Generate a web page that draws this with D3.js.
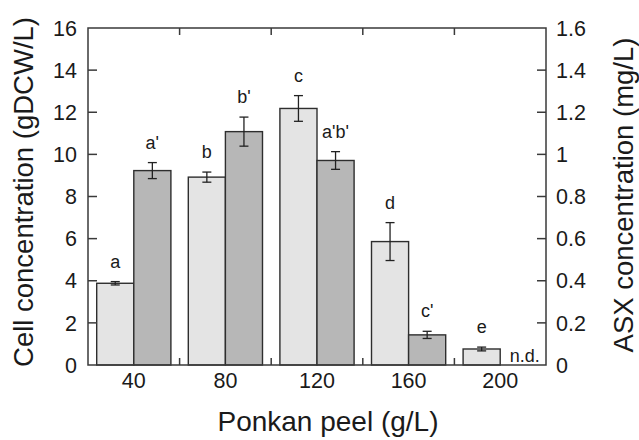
<!DOCTYPE html>
<html><head><meta charset="utf-8">
<script src="https://cdn.jsdelivr.net/npm/d3@7"></script>
<style>
body{margin:0;background:#fff;}
text{font-family:"Liberation Sans",Arial,Helvetica,sans-serif;fill:#1a1a1a;}
</style></head>
<body><svg id="chart" width="639" height="440"></svg>
<script>
const categories = ["40","80","120","160","200"];
const cellValues = [3.88, 8.92, 12.18, 5.86, 0.76];
const cellErrors = [0.08, 0.24, 0.61, 0.90, 0.09];
const asxValues = [0.923, 1.108, 0.971, 0.143, 0];
const asxErrors = [0.038, 0.069, 0.042, 0.017, 0];
const cellLabels = ["a","b","c","d","e"];
const asxLabels = ["a'","b'","a'b'","c'","n.d."];
const leftTicks = [0,2,4,6,8,10,12,14,16];
const rightTicks = [0,0.2,0.4,0.6,0.8,1,1.2,1.4,1.6];

const svg = d3.select("#chart");
const M = {l:88, r:546, t:28, b:365};
const x = d3.scaleBand().domain(categories).range([M.l, M.r]).paddingInner(0.19).paddingOuter(0.095);
const xs = d3.scaleBand().domain(["cell","asx"]).range([0, x.bandwidth()]);
const yL = d3.scaleLinear().domain([0,16]).range([M.b, M.t]);
const yR = d3.scaleLinear().domain([0,1.6]).range([M.b, M.t]);

const barStroke = "#2e2e2e", axisColor = "#3a3a3a";

const rows = categories.map((c,i)=>({c, cell:cellValues[i], cellE:cellErrors[i], asx:asxValues[i], asxE:asxErrors[i], cl:cellLabels[i], al:asxLabels[i]}));

// bars
const g = svg.append("g");
rows.forEach(r=>{
  const xc = x(r.c) + xs("cell"), xa = x(r.c) + xs("asx"), w = xs.bandwidth();
  g.append("rect").attr("x", xc).attr("y", yL(r.cell)).attr("width", w).attr("height", yL(0)-yL(r.cell))
    .attr("fill","#e4e4e4").attr("stroke",barStroke).attr("stroke-width",1.4);
  if (r.asx > 0) {
    g.append("rect").attr("x", xa).attr("y", yR(r.asx)).attr("width", w).attr("height", yR(0)-yR(r.asx))
      .attr("fill","#b7b7b7").attr("stroke",barStroke).attr("stroke-width",1.4);
  }
});

// error bars + labels
function errBar(cx, yTop, yBot){
  const cap = 4.5;
  g.append("line").attr("x1",cx).attr("x2",cx).attr("y1",yTop).attr("y2",yBot).attr("stroke","#222").attr("stroke-width",1.3);
  g.append("line").attr("x1",cx-cap).attr("x2",cx+cap).attr("y1",yTop).attr("y2",yTop).attr("stroke","#222").attr("stroke-width",1.3);
  g.append("line").attr("x1",cx-cap).attr("x2",cx+cap).attr("y1",yBot).attr("y2",yBot).attr("stroke","#222").attr("stroke-width",1.3);
}
rows.forEach(r=>{
  const w = xs.bandwidth();
  const cxc = x(r.c) + xs("cell") + w/2, cxa = x(r.c) + xs("asx") + w/2;
  errBar(cxc, yL(r.cell + r.cellE), yL(r.cell - r.cellE));
  g.append("text").attr("x", cxc).attr("y", yL(r.cell + r.cellE) - 14).attr("text-anchor","middle")
    .attr("font-size",18).text(r.cl);
  if (r.asx > 0) {
    errBar(cxa, yR(r.asx + r.asxE), yR(r.asx - r.asxE));
    g.append("text").attr("x", cxa).attr("y", yR(r.asx + r.asxE) - 14).attr("text-anchor","middle")
      .attr("font-size",18).text(r.al);
  } else {
    g.append("text").attr("x", cxa + 6).attr("y", yR(0) - 3).attr("text-anchor","middle")
      .attr("font-size",18).text(r.al);
  }
});

// frame
const ax = svg.append("g").attr("stroke",axisColor).attr("stroke-width",1.5).attr("fill","none");
ax.append("rect").attr("x",M.l).attr("y",M.t).attr("width",M.r-M.l).attr("height",M.b-M.t);

// left axis ticks (inward)
leftTicks.forEach(v=>{
  if (v>0 && v<16) ax.append("line").attr("x1",M.l).attr("x2",M.l+9).attr("y1",yL(v)).attr("y2",yL(v));
  svg.append("text").attr("x",M.l-11).attr("y",yL(v)).attr("dy","0.36em").attr("text-anchor","end")
    .attr("font-size",21.5).text(d3.format("~g")(v));
});
// right axis ticks (inward)
rightTicks.forEach(v=>{
  if (v>0 && v<1.6) ax.append("line").attr("x1",M.r).attr("x2",M.r-9).attr("y1",yR(v)).attr("y2",yR(v));
  svg.append("text").attr("x",M.r+10).attr("y",yR(v)).attr("dy","0.36em").attr("text-anchor","start")
    .attr("font-size",21.5).text(d3.format("~g")(v));
});
// x boundary ticks
categories.slice(1).forEach(c=>{
  const bx = x(c) - x.step()*x.paddingInner()/2;
  ax.append("line").attr("x1",bx).attr("x2",bx).attr("y1",M.b).attr("y2",M.b-7);
  ax.append("line").attr("x1",bx).attr("x2",bx).attr("y1",M.t).attr("y2",M.t+7);
});
// x tick labels
categories.forEach(c=>{
  svg.append("text").attr("x", x(c)+x.bandwidth()/2).attr("y", 388).attr("text-anchor","middle")
    .attr("font-size",21.5).text(c);
});

// titles
svg.append("text").attr("x",328).attr("y",431).attr("text-anchor","middle").attr("font-size",28).text("Ponkan peel (g/L)");
svg.append("text").attr("transform","translate(33,192) rotate(-90)").attr("text-anchor","middle").attr("font-size",27.5).text("Cell concentration (gDCW/L)");
svg.append("text").attr("transform","translate(633,195) rotate(-90)").attr("text-anchor","middle").attr("font-size",27.5).text("ASX concentration (mg/L)");
</script></body></html>
